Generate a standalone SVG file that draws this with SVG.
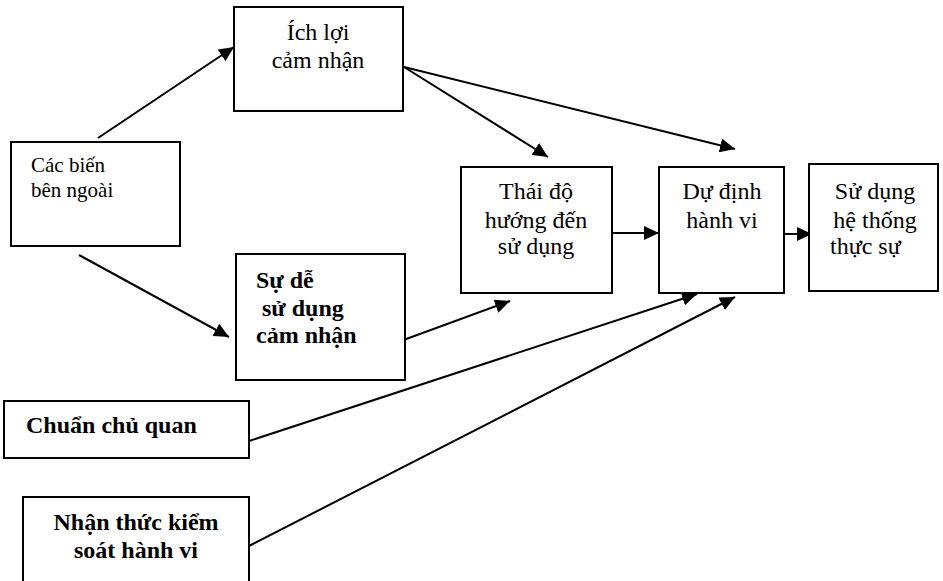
<svg xmlns="http://www.w3.org/2000/svg" width="943" height="581" viewBox="0 0 943 581">
<style>
rect{fill:#fff;stroke:#000;stroke-width:2}
text{font-family:'Liberation Serif','Times New Roman',Tinos,serif;font-size:24px;fill:#000}
.s{font-size:21px}
.b{font-weight:bold}
.c{text-anchor:middle}
#connectors line{stroke:#000;stroke-width:2;marker-end:url(#ah)}
</style>
<defs>
<marker id="ah" markerUnits="userSpaceOnUse" markerWidth="15" markerHeight="14" refX="15" refY="7" orient="auto">
<path d="M0,0 L15,7 L0,14 z" fill="#000"/>
</marker>
</defs>
<g id="connectors">
<line x1="98" y1="138" x2="234" y2="47"/>
<line x1="79" y1="255" x2="229" y2="337"/>
<line x1="404" y1="67" x2="548" y2="157"/>
<line x1="404" y1="67" x2="735" y2="149"/>
<line x1="612" y1="233" x2="659" y2="233"/>
<line x1="782" y1="234" x2="812" y2="234"/>
<line x1="398" y1="342" x2="510" y2="301"/>
<line x1="249" y1="441" x2="697" y2="294"/>
<line x1="249" y1="546" x2="735" y2="297"/>
</g>
<g id="ichloi">
<rect x="234" y="7" width="169" height="104"/>
<text class="c" x="318" y="40">Ích lợi</text>
<text class="c" x="318" y="68">cảm nhận</text>
</g>
<g id="cacbien">
<rect x="11" y="142" width="169" height="104"/>
<text class="s" x="31" y="172">Các biến</text>
<text class="s" x="31" y="197">bên ngoài</text>
</g>
<g id="sude">
<rect x="236" y="254" width="169" height="126"/>
<text class="b" x="256" y="288">Sự dễ</text>
<text class="b" x="262" y="316">sử dụng</text>
<text class="b" x="256" y="343">cảm nhận</text>
</g>
<g id="thaido">
<rect x="461" y="167" width="151" height="126"/>
<text class="c" x="536" y="199">Thái độ</text>
<text class="c" x="536" y="228">hướng đến</text>
<text class="c" x="536" y="254">sử dụng</text>
</g>
<g id="dudinh">
<rect x="659" y="167" width="125" height="126"/>
<text class="c" x="722" y="199">Dự định</text>
<text class="c" x="722" y="228">hành vi</text>
</g>
<g id="sudung">
<rect x="809" y="164" width="129" height="127"/>
<text class="c" x="875" y="199">Sử dụng</text>
<text class="c" x="875" y="228">hệ thống</text>
<text x="830" y="254">thực sự</text>
</g>
<g id="chuan">
<rect x="4" y="401" width="245" height="57"/>
<text class="b" x="26" y="433">Chuẩn chủ quan</text>
</g>
<g id="nhanthuc">
<rect x="23" y="497" width="226" height="100"/>
<text class="b c" x="136" y="530">Nhận thức kiểm</text>
<text class="b c" x="136" y="558">soát hành vi</text>
</g>
</svg>
